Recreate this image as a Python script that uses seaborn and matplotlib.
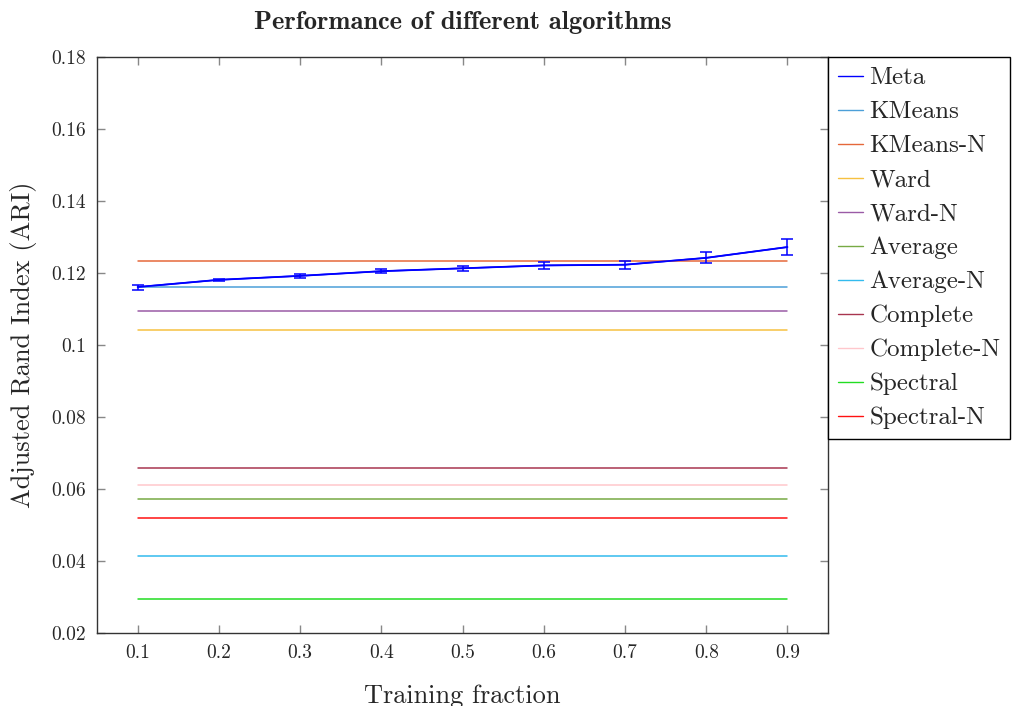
import numpy as np
import pandas as pd
import matplotlib
matplotlib.use("Agg")
import matplotlib.pyplot as plt
import seaborn as sns

# training fractions on the x axis
fractions = [0.1, 0.2, 0.3, 0.4, 0.5, 0.6, 0.7, 0.8, 0.9]

# meta method (mean ARI and error bar half-width)
meta_ari = [0.1161, 0.1181, 0.1192, 0.1205, 0.1213, 0.1221, 0.1223, 0.1242, 0.1272]
meta_err = [0.0007, 0.0003, 0.0006, 0.0006, 0.0007, 0.0009, 0.0011, 0.0015, 0.0022]

# baselines (constant over training fraction)
baseline_names = ["KMeans", "KMeans-N", "Ward", "Ward-N", "Average", "Average-N",
                  "Complete", "Complete-N", "Spectral", "Spectral-N"]
baseline_ari = [0.1162, 0.1233, 0.1043, 0.1095, 0.0572, 0.0414,
                0.0658, 0.0611, 0.0294, 0.0519]

colors = {
    "Meta": "#0000ff",
    "KMeans": "#4c9fd8",
    "KMeans-N": "#e5683a",
    "Ward": "#f6c141",
    "Ward-N": "#9a5ba6",
    "Average": "#77aa44",
    "Average-N": "#33bbee",
    "Complete": "#a8354f",
    "Complete-N": "#ffc7cc",
    "Spectral": "#22dd22",
    "Spectral-N": "#ff1111",
}

rows = []
for x, y in zip(fractions, meta_ari):
    rows.append({"fraction": x, "ari": y, "method": "Meta"})
for name, val in zip(baseline_names, baseline_ari):
    for x in fractions:
        rows.append({"fraction": x, "ari": val, "method": name})
df = pd.DataFrame(rows)

sns.set_style("ticks")
plt.rcParams["font.family"] = ["cmr10", "DejaVu Serif"]
plt.rcParams["axes.formatter.use_mathtext"] = True
plt.rcParams["mathtext.fontset"] = "cm"

fig, ax = plt.subplots(figsize=(10.18, 7.06), dpi=100)
fig.subplots_adjust(left=0.0953, right=0.8134, top=0.9193, bottom=0.1034)

order = ["Meta"] + baseline_names
sns.lineplot(data=df, x="fraction", y="ari", hue="method", hue_order=order,
             palette=colors, linewidth=1.1, ax=ax, errorbar=None)
# redraw meta on top with error bars
ax.errorbar(fractions, meta_ari, yerr=meta_err, fmt="none", ecolor="#0000ff",
            elinewidth=1.1, capsize=4, capthick=1.1, zorder=5)
ax.plot(fractions, meta_ari, color="#0000ff", linewidth=1.3, zorder=6)

ax.set_xlim(0.05, 0.95)
ax.set_ylim(0.02, 0.18)
ax.set_xticks(fractions)
ax.set_yticks([0.02, 0.04, 0.06, 0.08, 0.1, 0.12, 0.14, 0.16, 0.18])
ax.xaxis.set_major_formatter(matplotlib.ticker.FormatStrFormatter("%g"))
ax.yaxis.set_major_formatter(matplotlib.ticker.FormatStrFormatter("%g"))
ax.tick_params(direction="in", length=6, width=1, color="#888888",
               top=True, right=True, labelsize=14, pad=8)
for sp in ax.spines.values():
    sp.set_linewidth(1.0)
    sp.set_color("#333333")

ax.set_xlabel("Training fraction", fontsize=19, labelpad=16)
ax.set_ylabel("Adjusted Rand Index (ARI)", fontsize=19, labelpad=10)
ax.set_title("Performance of different algorithms", fontsize=19,
             family=["cmb10", "DejaVu Serif"], fontweight="bold", pad=20)

sns.move_legend(ax, "upper left", bbox_to_anchor=(1.0, 1.0), title=None,
                frameon=True, fontsize=18, handlelength=1.0, handletextpad=0.25,
                labelspacing=0.46, borderpad=0.4, borderaxespad=0.0)
leg = ax.get_legend()
leg.get_frame().set_edgecolor("black")
leg.get_frame().set_linewidth(1.0)
leg.get_frame().set_boxstyle("square", pad=0)
leg.get_frame().set_alpha(1)
for line in leg.get_lines():
    line.set_linewidth(1.0)

fig.savefig("out.png", dpi=100)
